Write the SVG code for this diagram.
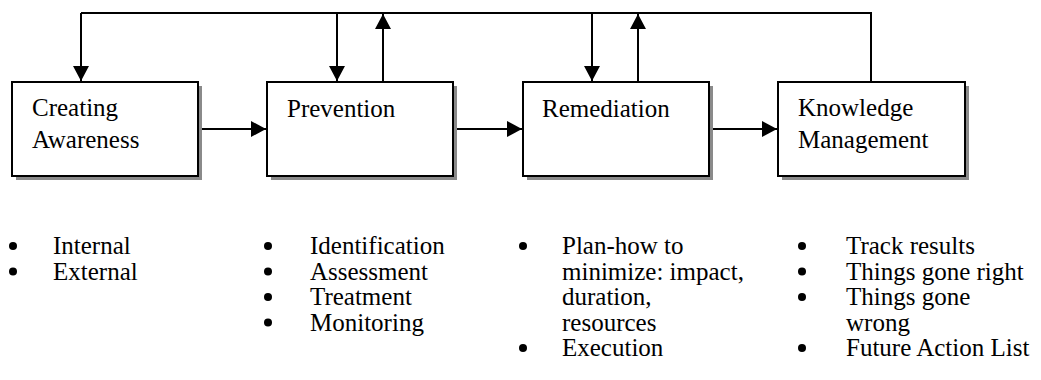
<svg xmlns="http://www.w3.org/2000/svg" width="1041" height="380" viewBox="0 0 1041 380">
<style>
.box{fill:#fff;stroke:#000;stroke-width:2}
.shadow{fill:#8a8a8a}
.t{font-family:"Liberation Serif","Times New Roman",serif;font-size:25px;fill:#000}
.c{fill:none;stroke:#000;stroke-width:2}
.b{fill:#000}
</style>
<defs>
<marker id="ah" viewBox="0 0 15 16" refX="15" refY="8" markerWidth="15" markerHeight="16" markerUnits="userSpaceOnUse" orient="auto">
<path d="M0,0 L15,8 L0,16 Z" fill="#000"/>
</marker>
</defs>
<rect width="1041" height="380" fill="#fff"/>
<g id="connectors">
<path class="c" d="M81,13 L871,13 L871,82"/>
<path class="c" d="M81,13 L81,81" marker-end="url(#ah)"/>
<path class="c" d="M337,13 L337,81" marker-end="url(#ah)"/>
<path class="c" d="M383,82 L383,14" marker-end="url(#ah)"/>
<path class="c" d="M592,13 L592,81" marker-end="url(#ah)"/>
<path class="c" d="M638,82 L638,14" marker-end="url(#ah)"/>
<path class="c" d="M202,129 L266,129" marker-end="url(#ah)"/>
<path class="c" d="M457,129 L522,129" marker-end="url(#ah)"/>
<path class="c" d="M713,129 L777,129" marker-end="url(#ah)"/>
</g>
<g id="creating-awareness">
<rect class="shadow" x="16" y="86" width="186" height="94"/>
<rect class="box" x="12" y="82" width="186" height="94"/>
<text class="t" x="32" y="116">Creating</text>
<text class="t" x="32" y="148">Awareness</text>
</g>
<g id="prevention">
<rect class="shadow" x="271" y="86" width="186" height="94"/>
<rect class="box" x="267" y="82" width="186" height="94"/>
<text class="t" x="287" y="117">Prevention</text>
</g>
<g id="remediation">
<rect class="shadow" x="527" y="86" width="186" height="94"/>
<rect class="box" x="523" y="82" width="186" height="94"/>
<text class="t" x="542" y="117">Remediation</text>
</g>
<g id="knowledge-management">
<rect class="shadow" x="782" y="86" width="187" height="94"/>
<rect class="box" x="778" y="82" width="187" height="94"/>
<text class="t" x="798" y="116">Knowledge</text>
<text class="t" x="798" y="148">Management</text>
</g>
<g id="list-awareness">
<circle class="b" cx="13" cy="246" r="4"/>
<circle class="b" cx="13" cy="271.5" r="4"/>
<text class="t" x="53" y="254">Internal</text>
<text class="t" x="53" y="279.5">External</text>
</g>
<g id="list-prevention">
<circle class="b" cx="268" cy="246" r="4"/>
<circle class="b" cx="268" cy="271.5" r="4"/>
<circle class="b" cx="268" cy="297" r="4"/>
<circle class="b" cx="268" cy="322.5" r="4"/>
<text class="t" x="310" y="254">Identification</text>
<text class="t" x="310" y="279.5">Assessment</text>
<text class="t" x="310" y="305">Treatment</text>
<text class="t" x="310" y="330.5">Monitoring</text>
</g>
<g id="list-remediation">
<circle class="b" cx="523" cy="246" r="4"/>
<circle class="b" cx="523" cy="348" r="4"/>
<text class="t" x="562" y="254">Plan-how to</text>
<text class="t" x="562" y="279.5">minimize: impact,</text>
<text class="t" x="562" y="305">duration,</text>
<text class="t" x="562" y="330.5">resources</text>
<text class="t" x="562" y="356">Execution</text>
</g>
<g id="list-knowledge">
<circle class="b" cx="802" cy="246" r="4"/>
<circle class="b" cx="802" cy="271.5" r="4"/>
<circle class="b" cx="802" cy="297" r="4"/>
<circle class="b" cx="802" cy="348" r="4"/>
<text class="t" x="846" y="254">Track results</text>
<text class="t" x="846" y="279.5">Things gone right</text>
<text class="t" x="846" y="305">Things gone</text>
<text class="t" x="846" y="330.5">wrong</text>
<text class="t" x="846" y="356">Future Action List</text>
</g>
</svg>
